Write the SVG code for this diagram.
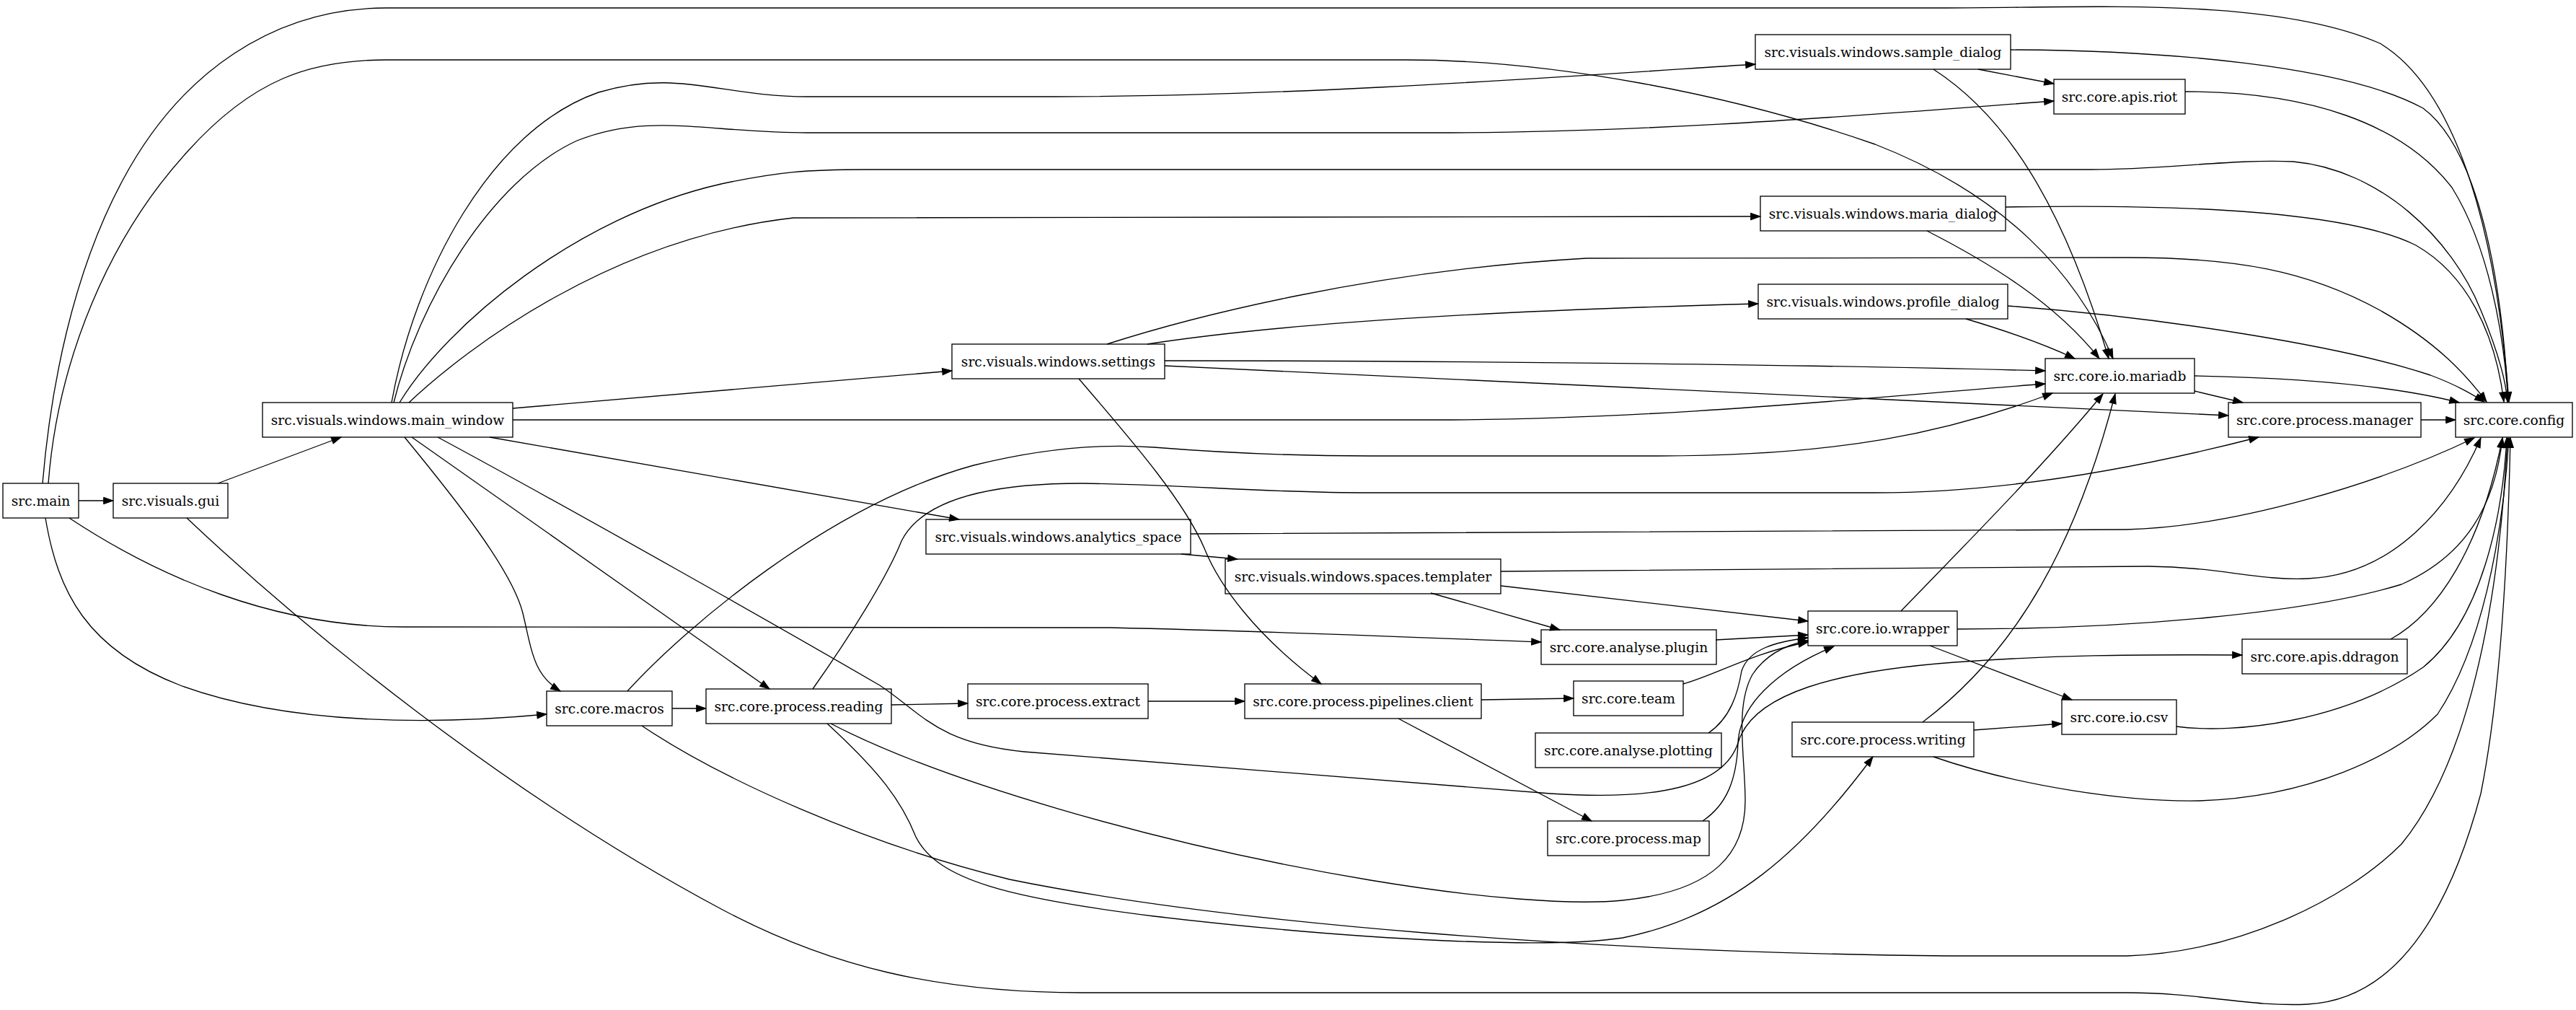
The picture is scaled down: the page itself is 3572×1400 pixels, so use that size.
<svg xmlns="http://www.w3.org/2000/svg" width="3572" height="1400" viewBox="0 0 3572 1400">
<style>
.n rect{fill:none;stroke:#000;stroke-width:1.33}
.n text{font-family:"DejaVu Serif","Liberation Serif",serif;font-size:18.67px;text-anchor:middle;fill:#000}
.e path{fill:none;stroke:#000;stroke-width:1.33;marker-end:url(#ah)}
</style>
<defs>
<marker id="ah" markerUnits="userSpaceOnUse" markerWidth="16" markerHeight="12" refX="13.3" refY="4.67" orient="auto" overflow="visible">
<path d="M0,0 L13.3,4.67 L0,9.33 z" fill="#000" stroke="#000" stroke-width="1"/>
</marker>
</defs>
<rect x="0" y="0" width="3572" height="1400" fill="#fff"/>
<g id="connectors" class="e">
<path d="M109,694 L157,694"/>
<path d="M59,670 C70,540 100,380 170,250 C250,100 380,11 536,11 L2700,11 C2900,11 3150,-5 3300,60 C3400,120 3460,300 3479,557"/>
<path d="M67,670 C80,500 150,330 260,210 C350,110 430,83 536,83 L1950,83 C2150,83 2400,130 2600,200 C2780,270 2880,380 2930,497"/>
<path d="M96,718 C220,800 380,869 560,869 L1540,870 C1800,876 2000,885 2137,890"/>
<path d="M63,718 C80,820 120,900 250,950 C400,1005 600,1005 758,990"/>
<path d="M302,670 L473,606"/>
<path d="M259,718 C420,870 700,1100 1000,1260 C1150,1340 1300,1376 1500,1376 L2950,1376 C3050,1376 3120,1396 3200,1392 C3330,1385 3400,1250 3440,1100 C3470,950 3478,750 3481,607"/>
<path d="M543,558 C575,380 680,180 830,128 C940,95 1000,134 1120,134 L1460,134 C1800,134 2200,104 2434,89"/>
<path d="M546,558 C580,420 680,250 800,195 C900,155 980,184 1120,184 L1990,184 C2300,184 2600,158 2848,140"/>
<path d="M554,558 C620,450 800,300 1000,255 C1080,238 1120,235 1200,235 L2900,235 C3000,235 3100,220 3180,224 C3300,235 3400,330 3440,430 C3465,490 3475,530 3477,557"/>
<path d="M567,558 C650,480 850,330 1100,302 L2441,300"/>
<path d="M711,566 L1320,514"/>
<path d="M711,582 L1990,582 C2300,582 2600,550 2836,532"/>
<path d="M679,606 L1330,720"/>
<path d="M561,606 C630,690 710,790 725,850 C738,905 740,935 777,958"/>
<path d="M571,606 L1067,955"/>
<path d="M607,606 C800,710 1100,880 1220,950 C1280,990 1300,1030 1420,1042 L2150,1100 C2300,1110 2390,1090 2410,1030 C2430,960 2550,930 2710,918 C2850,908 2950,907 3109,908"/>
<path d="M1535,477 C1650,440 1900,375 2200,358 L2950,357 C3100,357 3200,375 3300,430 C3380,475 3420,520 3448,557"/>
<path d="M1591,477 C1800,445 2100,430 2438,421"/>
<path d="M1615,500 C2000,500 2500,505 2836,514"/>
<path d="M1615,507 C2200,535 2700,560 3090,576"/>
<path d="M1496,525 C1560,600 1640,690 1670,760 C1690,810 1740,880 1832,948"/>
<path d="M2788,69 C3000,70 3250,90 3360,150 C3440,210 3470,400 3478,557"/>
<path d="M2743,96 L2848,116"/>
<path d="M2681,96 C2780,160 2860,280 2924,497"/>
<path d="M3030,127 C3200,127 3330,170 3400,260 C3450,340 3472,460 3478,557"/>
<path d="M2781,287 C3000,283 3250,290 3350,340 C3420,380 3460,460 3472,557"/>
<path d="M2672,320 C2760,365 2850,420 2911,497"/>
<path d="M2784,424 C3000,440 3250,480 3370,520 C3410,535 3430,548 3445,557"/>
<path d="M2726,442 C2780,458 2830,475 2877,497"/>
<path d="M3043,521 C3200,524 3320,535 3410,558"/>
<path d="M3043,542 L3110,558"/>
<path d="M3357,582 L3405,582"/>
<path d="M1651,740 L2949,734 C3100,730 3300,670 3431,607"/>
<path d="M1638,768 L1716,775"/>
<path d="M2081,792 L2978,785 C3080,786 3130,805 3200,802 C3320,797 3400,700 3440,607"/>
<path d="M2081,812 L2507,861"/>
<path d="M1984,822 L2163,873"/>
<path d="M2379,887 L2507,880"/>
<path d="M932,982 L979,982"/>
<path d="M870,958 C950,870 1150,700 1350,645 C1450,620 1530,615 1600,620 C1700,628 1800,632 1900,632 L2300,632 C2550,632 2700,600 2846,545"/>
<path d="M890,1006 C1000,1080 1200,1170 1400,1219 C1700,1280 2200,1320 2700,1325 L2950,1325 C3100,1320 3250,1250 3330,1170 C3420,1060 3465,850 3477,607"/>
<path d="M1236,977 L1342,975"/>
<path d="M1127,955 C1180,880 1230,800 1250,750 C1280,690 1380,670 1500,670 C1650,672 1750,683 1900,683 L2600,683 C2800,683 3000,640 3132,606"/>
<path d="M1152,1003 C1300,1080 1600,1170 1900,1220 C2050,1245 2180,1255 2250,1248 C2380,1235 2420,1180 2420,1110 C2420,1050 2405,980 2430,935 C2450,905 2480,893 2507,888"/>
<path d="M1147,1003 C1220,1070 1250,1110 1270,1160 C1300,1220 1400,1245 1600,1270 C1900,1305 2150,1315 2250,1300 C2400,1270 2500,1180 2597,1049"/>
<path d="M1592,972 L1726,972"/>
<path d="M2054,970 L2182,968"/>
<path d="M1939,996 L2207,1138"/>
<path d="M2334,948 C2380,935 2430,905 2507,890"/>
<path d="M2369,1016 C2400,995 2410,960 2415,930 C2425,900 2460,890 2507,884"/>
<path d="M2361,1138 C2395,1115 2408,1080 2410,1030 C2412,980 2460,930 2543,896"/>
<path d="M2636,847 C2720,760 2830,650 2916,546"/>
<path d="M2676,895 L2873,970"/>
<path d="M2714,872 C2950,872 3200,850 3330,810 C3420,770 3460,700 3470,607"/>
<path d="M2666,1001 C2800,900 2880,750 2933,546"/>
<path d="M2737,1012 L2859,1003"/>
<path d="M2681,1049 C2800,1090 2950,1112 3050,1110 C3200,1105 3320,1050 3380,990 C3440,900 3470,750 3479,607"/>
<path d="M3018,1007 C3100,1018 3250,1000 3360,925 C3440,860 3470,720 3476,607"/>
<path d="M3315,886 C3380,850 3440,760 3470,607"/>
</g>
<g id="src.main" class="n"><rect x="4" y="670" width="105" height="48"/><text x="56.5" y="700.5">src.main</text></g>
<g id="src.visuals.gui" class="n"><rect x="157" y="670" width="159" height="48"/><text x="236.5" y="700.5">src.visuals.gui</text></g>
<g id="src.visuals.windows.main_window" class="n"><rect x="364" y="558" width="347" height="48"/><text x="537.5" y="588.5">src.visuals.windows.main_window</text></g>
<g id="src.visuals.windows.settings" class="n"><rect x="1320" y="477" width="295" height="48"/><text x="1467.5" y="507.5">src.visuals.windows.settings</text></g>
<g id="src.visuals.windows.analytics_space" class="n"><rect x="1284" y="720" width="367" height="48"/><text x="1467.5" y="750.5">src.visuals.windows.analytics_space</text></g>
<g id="src.visuals.windows.spaces.templater" class="n"><rect x="1699" y="775" width="382" height="48"/><text x="1890" y="805.5">src.visuals.windows.spaces.templater</text></g>
<g id="src.core.macros" class="n"><rect x="758" y="958" width="174" height="48"/><text x="845" y="988.5">src.core.macros</text></g>
<g id="src.core.process.reading" class="n"><rect x="979" y="955" width="257" height="48"/><text x="1107.5" y="985.5">src.core.process.reading</text></g>
<g id="src.core.process.extract" class="n"><rect x="1342" y="948" width="250" height="48"/><text x="1467" y="978.5">src.core.process.extract</text></g>
<g id="src.core.process.pipelines.client" class="n"><rect x="1726" y="948" width="328" height="48"/><text x="1890" y="978.5">src.core.process.pipelines.client</text></g>
<g id="src.core.team" class="n"><rect x="2182" y="944" width="152" height="48"/><text x="2258" y="974.5">src.core.team</text></g>
<g id="src.core.analyse.plugin" class="n"><rect x="2137" y="873" width="243" height="48"/><text x="2258.5" y="903.5">src.core.analyse.plugin</text></g>
<g id="src.core.analyse.plotting" class="n"><rect x="2129" y="1016" width="258" height="48"/><text x="2258" y="1046.5">src.core.analyse.plotting</text></g>
<g id="src.core.process.map" class="n"><rect x="2146" y="1138" width="224" height="48"/><text x="2258" y="1168.5">src.core.process.map</text></g>
<g id="src.core.io.wrapper" class="n"><rect x="2507" y="847" width="207" height="48"/><text x="2610.5" y="877.5">src.core.io.wrapper</text></g>
<g id="src.core.process.writing" class="n"><rect x="2485" y="1001" width="252" height="48"/><text x="2611" y="1031.5">src.core.process.writing</text></g>
<g id="src.core.io.csv" class="n"><rect x="2859" y="970" width="159" height="48"/><text x="2938.5" y="1000.5">src.core.io.csv</text></g>
<g id="src.core.apis.ddragon" class="n"><rect x="3109" y="886" width="229" height="48"/><text x="3223.5" y="916.5">src.core.apis.ddragon</text></g>
<g id="src.visuals.windows.sample_dialog" class="n"><rect x="2434" y="48" width="354" height="48"/><text x="2611" y="78.5">src.visuals.windows.sample_dialog</text></g>
<g id="src.core.apis.riot" class="n"><rect x="2848" y="110" width="182" height="48"/><text x="2939" y="140.5">src.core.apis.riot</text></g>
<g id="src.visuals.windows.maria_dialog" class="n"><rect x="2441" y="272" width="340" height="48"/><text x="2611" y="302.5">src.visuals.windows.maria_dialog</text></g>
<g id="src.visuals.windows.profile_dialog" class="n"><rect x="2438" y="394" width="346" height="48"/><text x="2611" y="424.5">src.visuals.windows.profile_dialog</text></g>
<g id="src.core.io.mariadb" class="n"><rect x="2836" y="497" width="207" height="48"/><text x="2939.5" y="527.5">src.core.io.mariadb</text></g>
<g id="src.core.process.manager" class="n"><rect x="3090" y="558" width="267" height="48"/><text x="3223.5" y="588.5">src.core.process.manager</text></g>
<g id="src.core.config" class="n"><rect x="3405" y="558" width="162" height="48"/><text x="3486" y="588.5">src.core.config</text></g>
</svg>
